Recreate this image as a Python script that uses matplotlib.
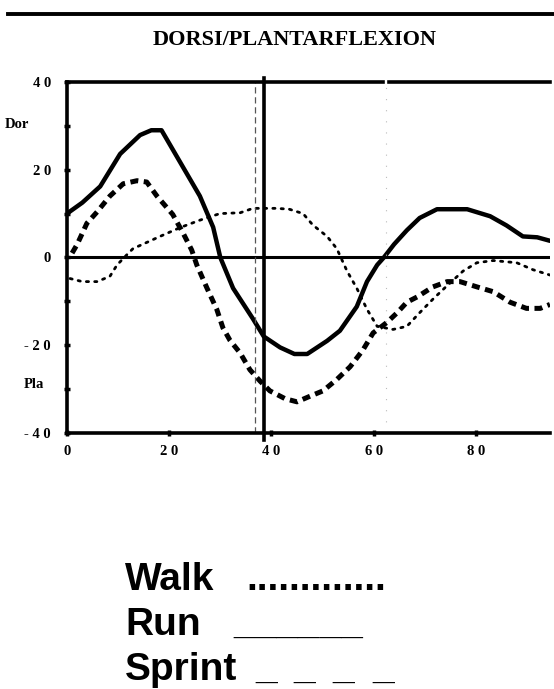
import matplotlib
matplotlib.use("Agg")
import matplotlib.pyplot as plt
from matplotlib.lines import Line2D

# Ankle dorsi/plantarflexion over the gait cycle (degrees vs % cycle)
run_x = [0, 3, 6.5, 10.4, 14.3, 16.5, 18.5, 20, 21.5, 23.5, 26, 28.6, 30, 32.5, 36.4, 38.5,
         41.7, 44.5, 47, 50.9, 53.4, 56.7, 58.7, 60.7, 62, 64, 66.5, 69, 72.4, 78.3,
         82.8, 86, 89.2, 92, 94.5]
run_y = [10, 12.5, 16.2, 23.6, 27.9, 29, 29, 26, 23, 19, 14, 6.9, 0, -7, -14, -18,
         -20.5, -22, -22, -19, -16.7, -11.2, -5.5, -1.7, 0, 3, 6.2, 9, 11, 11,
         9.4, 7.3, 4.8, 4.6, 3.8]

sprint_x = [1, 2, 3.9, 5.9, 8.4, 11, 13.7, 15.6, 17.6, 20.7, 22.7, 24.4, 25.4, 27.4, 29.3,
            30.5, 31.9, 33.9, 35.8, 37.8, 39.7, 42.7, 45, 47.6, 50.1, 52.8, 55.4, 57.9,
            59.9, 62.6, 64.6, 66.5, 68.5, 71.6, 74.4, 76.9, 80.2, 83.4, 86.7, 89.9, 92.6, 94.5]
sprint_y = [1, 3, 7.8, 10.4, 14, 16.8, 17.5, 17.2, 14, 9.8, 5.6, 1.7, -1.7, -7, -11.8,
            -16, -18.9, -21.8, -25.6, -28.2, -30.4, -32.2, -32.9, -31.6, -30.4, -27.8, -24.9, -21.1,
            -17.2, -14.8, -12.6, -10.2, -9, -6.7, -5.5, -5.5, -6.7, -7.8, -10.2, -11.6, -11.6, -10.7]

walk_x = [0.6, 3, 5.9, 8.4, 9.8, 11.7, 12.9, 18.2, 22.1, 26, 29.9, 33.9, 36.4, 41, 43.5,
          46.2, 48.1, 50.9, 52.8, 54.8, 56.7, 58.7, 60.7, 63.8, 66.5, 69, 71.6, 74.4,
          77.5, 80.2, 83.4, 88, 91.2, 94.5]
walk_y = [-4.8, -5.5, -5.5, -4.3, -1.7, 0.6, 2, 4.8, 6.8, 8.5, 10, 10.2, 11.2, 11.2, 11,
          10, 7.4, 4.8, 2, -3.1, -7, -11.8, -15.7, -16.4, -15.7, -12.6, -9.5, -6.4,
          -3.1, -1.2, -0.7, -1.2, -2.8, -4]

xticks = [0, 20, 40, 60, 80]
xtick_labels = ["0", "2 0", "4 0", "6 0", "8 0"]
yticks = [-40, -20, 0, 20, 40]
ytick_labels = ["- 4 0", "- 2 0", "0", "2 0", "4 0"]
yminor = [-30, -10, 10, 30]

toe_off_x = 38.5
toe_off_dashed_x = 36.8
faint_x = 62.4

serif = "Liberation Serif"
sans = "Liberation Sans"

fig = plt.figure(figsize=(5.54, 6.89), dpi=100)
ax = fig.add_axes([0.1209, 0.3716, 0.8718, 0.5094])

ax.plot(walk_x, walk_y, color="black", lw=2.0, linestyle=(0, (0.8, 2.2)),
        dash_capstyle="round")
ax.plot(run_x, run_y, color="black", lw=3.2, solid_capstyle="round")
ax.plot(sprint_x, sprint_y, color="black", lw=3.6, linestyle=(0, (1.6, 1.1)))

ax.axhline(0, color="black", lw=2.2)
ax.axvline(toe_off_x, ymin=-0.02, ymax=1.01, color="black", lw=2.6, clip_on=False)
ax.axvline(toe_off_dashed_x, color="#555555", lw=0.9, linestyle=(0, (5, 3)))
ax.axvline(faint_x, color="#bbbbbb", lw=0.8, linestyle=(0, (1, 9)))

ax.set_xlim(0, 94.5)
ax.set_ylim(-40, 40)

for side in ["right", "top"]:
    ax.spines[side].set_visible(False)
for side in ["left", "bottom"]:
    ax.spines[side].set_linewidth(2.6)

# top frame line with a small gap at the faint marker
ax.plot([0, faint_x - 0.6], [40, 40], color="black", lw=2.6, clip_on=False)
ax.plot([faint_x + 0.6, 94.5], [40, 40], color="black", lw=2.6, clip_on=False)

ax.set_xticks(xticks, xtick_labels)
ax.set_yticks(yticks, ytick_labels)
ax.set_yticks(yminor, minor=True)
ax.tick_params(axis="both", which="both", direction="inout", length=5, width=2.5)
ax.tick_params(axis="x", pad=6)
ax.tick_params(axis="y", pad=9)
for lab in ax.get_xticklabels() + ax.get_yticklabels():
    lab.set_fontfamily(serif)
    lab.set_fontweight("bold")
    lab.set_fontsize(10.5)

fig.text(29 / 554, 1 - 124 / 689, "Dor", ha="right", va="center",
         fontfamily=serif, fontweight="bold", fontsize=10.5)
fig.text(24 / 554, 1 - 384 / 689, "Pla", ha="left", va="center",
         fontfamily=serif, fontweight="bold", fontsize=10.5)

fig.text(295 / 554, 1 - 40 / 689, "DORSI/PLANTARFLEXION", ha="center", va="center",
         fontfamily=serif, fontweight="bold", fontsize=16)

fig.add_artist(Line2D([8 / 554, 1], [1 - 14 / 689, 1 - 14 / 689], color="black", lw=2.8))

# key, typed under the plot
key_x = 125 / 554
key_size = 28
fig.text(key_x, 1 - 590 / 689, "Walk", fontfamily=sans, fontweight="bold",
         fontsize=key_size, va="baseline")
fig.text(246 / 554, 1 - 590 / 689, ".............", fontfamily=sans, fontweight="bold",
         fontsize=key_size, va="baseline")
fig.text(key_x, 1 - 635 / 689, "Run", fontfamily=sans, fontweight="bold",
         fontsize=key_size, va="baseline")
fig.text(233 / 554, 1 - 635 / 689, "______", fontfamily=sans, fontweight="bold",
         fontsize=key_size, va="baseline")
fig.text(key_x, 1 - 680 / 689, "Sprint", fontfamily=sans, fontweight="bold",
         fontsize=key_size, va="baseline")
for px in [255, 293, 332, 372]:
    fig.text(px / 554, 1 - 680 / 689, "_", fontfamily=sans, fontweight="bold",
             fontsize=key_size, va="baseline")

fig.savefig("out.png", dpi=100)
